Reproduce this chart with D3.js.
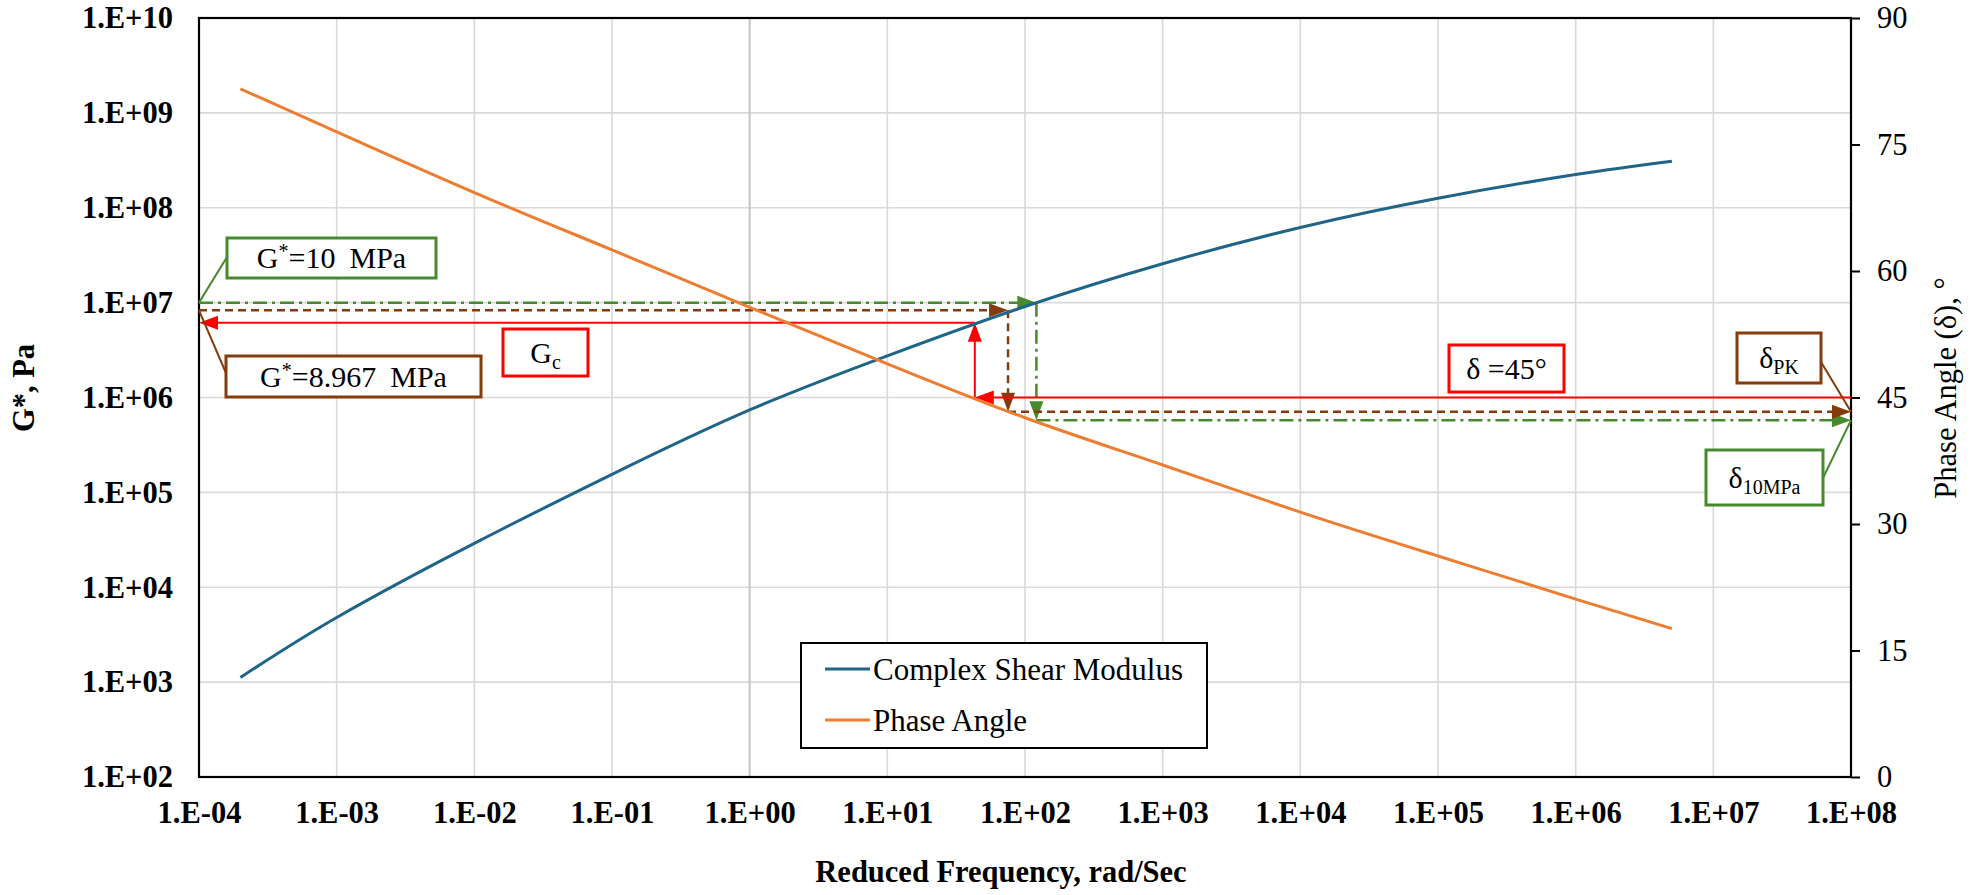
<!DOCTYPE html>
<html>
<head>
<meta charset="utf-8">
<script src="https://cdn.jsdelivr.net/npm/d3@7"></script>
<style>
  body { margin: 0; background: #fff; }
  svg { display: block; }
  svg text { font-family: "Liberation Serif", Tinos, "DejaVu Serif", serif; fill: #000; }
</style>
</head>
<body>
<div id="chart"></div>
<script>
// reduced frequency (rad/s) and the two master curves
var frequency = [2e-4, 1e-3, 1e-2, 1e-1, 1, 10, 100, 1e3, 1e4, 1e5, 1e6, 5e6];
var shearModulus = [1.12e3, 4.8e3, 2.9e4, 1.55e5, 7.4e5, 2.75e6, 9.1e6, 2.57e7, 6.2e7, 1.26e8, 2.24e8, 3.09e8];
var phaseAngle = [81.6, 76.5, 69.3, 62.5, 55.7, 49.0, 42.6, 37.0, 31.4, 26.2, 21.1, 17.6];

// annotation points: [frequency, G*, phase]
var crossover = [43.2, 6.15e6, 45];      // G_c at delta = 45
var pkPoint = [75.3, 8.3e6, 43.3];        // G* = 8.967 MPa
var tenMPaPoint = [121, 1e7, 42.3];       // G* = 10 MPa

var xTickExp = [-4, -3, -2, -1, 0, 1, 2, 3, 4, 5, 6, 7, 8];
var yTickExp = [2, 3, 4, 5, 6, 7, 8, 9, 10];
var phaseTicks = [0, 15, 30, 45, 60, 75, 90];
var seriesNames = ["Complex Shear Modulus", "Phase Angle"];

var W = 1973, H = 895;
var plot = {left: 199, top: 18, right: 1851, bottom: 777};
var fs = 30.5;
var SERIF = "'Liberation Serif', Tinos, 'DejaVu Serif', serif";

var BLUE = "#1f6587", ORANGE = "#ed7d31", RED = "#ff0000", BROWN = "#843c0c", GREEN = "#478a2e";

var svg = d3.select("#chart").append("svg")
    .attr("width", W)
    .attr("height", H)
    .attr("font-family", SERIF);

var x = d3.scaleLog().domain([1e-4, 1e8]).range([plot.left, plot.right]);
var y = d3.scaleLog().domain([1e2, 1e10]).range([plot.bottom, plot.top]);
var y2 = d3.scaleLinear().domain([0, 90]).range([plot.bottom, plot.top]);

function sciLabel(e){
  return "1.E" + (e < 0 ? "-" : "+") + String(Math.abs(e)).padStart(2, "0");
}

// gridlines
var grid = svg.append("g").attr("class", "grid");
grid.selectAll("line.h")
    .data(yTickExp.slice(1, -1)).enter()
  .append("line")
    .attr("x1", plot.left).attr("x2", plot.right)
    .attr("y1", function(e){ return y(Math.pow(10, e)); })
    .attr("y2", function(e){ return y(Math.pow(10, e)); })
    .style("stroke", "#d9d9d9")
    .style("stroke-width", 1.6);
grid.selectAll("line.v")
    .data(xTickExp.slice(1, -1)).enter()
  .append("line")
    .attr("y1", plot.top).attr("y2", plot.bottom)
    .attr("x1", function(e){ return x(Math.pow(10, e)); })
    .attr("x2", function(e){ return x(Math.pow(10, e)); })
    .style("stroke", function(e){ return e == 0 ? "#c4c4c4" : "#d9d9d9"; })
    .style("stroke-width", function(e){ return e == 0 ? 2 : 1.6; });

// axes
var leftAxis = svg.append("g")
    .attr("transform", "translate(" + plot.left + ",0)")
    .call(d3.axisLeft(y).tickValues(yTickExp.map(function(e){ return Math.pow(10, e); }))
      .tickFormat(function(d){ return sciLabel(Math.round(Math.log10(d))); })
      .tickSize(0).tickPadding(26));

var bottomAxis = svg.append("g")
    .attr("transform", "translate(0," + plot.bottom + ")")
    .call(d3.axisBottom(x).tickValues(xTickExp.map(function(e){ return Math.pow(10, e); }))
      .tickFormat(function(d){ return sciLabel(Math.round(Math.log10(d))); })
      .tickSize(0).tickPadding(24));

var rightAxis = svg.append("g")
    .attr("transform", "translate(" + plot.right + ",0)")
    .call(d3.axisRight(y2).tickValues(phaseTicks).tickSize(9).tickPadding(17));

[leftAxis, bottomAxis, rightAxis].forEach(function(a){
  a.attr("font-family", SERIF).attr("font-size", fs);
  a.select(".domain").remove();
  a.selectAll("text")
      .style("font-family", SERIF)
      .style("font-size", fs + "px")
      .style("fill", "#000");
});
leftAxis.selectAll("text").style("font-weight", "bold");
bottomAxis.selectAll("text").style("font-weight", "bold");
rightAxis.selectAll("line").style("stroke", "#000").style("stroke-width", 2);

// plot frame
svg.append("rect")
    .attr("x", plot.left).attr("y", plot.top)
    .attr("width", plot.right - plot.left)
    .attr("height", plot.bottom - plot.top)
    .style("fill", "none")
    .style("stroke", "#000")
    .style("stroke-width", 2.2);

// axis titles
svg.append("text")
    .attr("transform", "translate(24,388) rotate(-90)")
    .style("text-anchor", "middle")
    .style("dominant-baseline", "central")
    .style("font-size", fs + "px")
    .style("font-weight", "bold")
    .text("G*, Pa");

svg.append("text")
    .attr("x", 1001).attr("y", 882)
    .style("text-anchor", "middle")
    .style("font-size", fs + "px")
    .style("font-weight", "bold")
    .text("Reduced Frequency, rad/Sec");

svg.append("text")
    .attr("transform", "translate(1946,388) rotate(-90)")
    .style("text-anchor", "middle")
    .style("dominant-baseline", "central")
    .style("font-size", fs + "px")
    .text("Phase Angle (\u03b4), \u00b0");

// annotation helpers
var ann = svg.append("g").attr("class", "annotations");

function arrowHead(tx, ty, dir, color){
  var L = 19, w = 7, pts;
  if(dir == "left") pts = [[tx, ty], [tx + L, ty - w], [tx + L, ty + w]];
  if(dir == "right") pts = [[tx, ty], [tx - L, ty - w], [tx - L, ty + w]];
  if(dir == "up") pts = [[tx, ty], [tx - w, ty + L], [tx + w, ty + L]];
  if(dir == "down") pts = [[tx, ty], [tx - w, ty - L], [tx + w, ty - L]];
  ann.append("path")
      .attr("d", d3.line()(pts) + "Z")
      .style("fill", color);
}

function seg(x1, y1, x2, y2, color, dash, width){
  ann.append("line")
      .attr("x1", x1).attr("y1", y1).attr("x2", x2).attr("y2", y2)
      .style("stroke", color)
      .style("stroke-width", width || 2)
      .style("stroke-dasharray", dash || null);
}

// green: G* = 10 MPa -> delta_10MPa
var gx = x(tenMPaPoint[0]), gy = y(tenMPaPoint[1]), gp = y2(tenMPaPoint[2]);
var GREEN_DASH = "14,5,3,5";
seg(plot.left, gy, gx - 16, gy, GREEN, GREEN_DASH, 2.5);
arrowHead(gx, gy, "right", GREEN);
seg(gx, gy, gx, gp - 16, GREEN, GREEN_DASH, 2.5);
arrowHead(gx, gp, "down", GREEN);
seg(gx, gp, plot.right - 16, gp, GREEN, GREEN_DASH, 2.5);
arrowHead(plot.right, gp, "right", GREEN);

// brown: G* = 8.967 MPa -> delta_PK
var bx = x(pkPoint[0]), by = y(pkPoint[1]), bp = y2(pkPoint[2]);
var BROWN_DASH = "8,5";
seg(plot.left, by, bx - 16, by, BROWN, BROWN_DASH, 2.5);
arrowHead(bx, by, "right", BROWN);
seg(bx, by, bx, bp - 16, BROWN, BROWN_DASH, 2.5);
arrowHead(bx, bp, "down", BROWN);
seg(bx, bp, plot.right - 16, bp, BROWN, BROWN_DASH, 2.5);
arrowHead(plot.right, bp, "right", BROWN);

// red: crossover G_c at delta = 45
var rx = x(crossover[0]), ry = y(crossover[1]), rp = y2(crossover[2]);
seg(plot.left + 16, ry, rx, ry, RED, null, 2);
arrowHead(plot.left, ry, "left", RED);
seg(rx, rp, rx, ry + 16, RED, null, 2);
arrowHead(rx, ry, "up", RED);
seg(rx + 16, rp, plot.right, rp, RED, null, 2);
arrowHead(rx, rp, "left", RED);

// series curves
var pts = function(vals, scale){
  return frequency.map(function(f, i){ return [x(f), scale(vals[i])]; });
};
var line = d3.line().curve(d3.curveNatural);

svg.append("path")
    .attr("d", line(pts(shearModulus, y)))
    .style("fill", "none")
    .style("stroke", BLUE)
    .style("stroke-width", 3);

svg.append("path")
    .attr("d", line(pts(phaseAngle, y2)))
    .style("fill", "none")
    .style("stroke", ORANGE)
    .style("stroke-width", 3);

// callout boxes
var boxes = svg.append("g").attr("class", "boxes");
function labelBox(x0, y0, x1, y1, color, parts){
  boxes.append("rect")
      .attr("x", x0).attr("y", y0)
      .attr("width", x1 - x0).attr("height", y1 - y0)
      .style("fill", "#fff")
      .style("stroke", color)
      .style("stroke-width", 3);
  var t = boxes.append("text")
      .attr("x", (x0 + x1) / 2)
      .attr("y", (y0 + y1) / 2 + 10)
      .style("text-anchor", "middle")
      .style("font-size", "30px");
  parts.forEach(function(p){
    var ts = t.append("tspan").text(p.t);
    if(p.sub){ ts.style("font-size", "20px").attr("dy", 6); }
    if(p.sup){ ts.style("font-size", "20px").attr("dy", -10); }
    if(p.back){ ts.attr("dy", p.back); }
    if(p.dx){ ts.attr("dx", p.dx); }
  });
}

// callout leader lines
seg(227, 257, plot.left, gy, GREEN, null, 2);
seg(226, 373, plot.left, by, BROWN, null, 2);
seg(1821, 362, plot.right, bp, BROWN, null, 2);
seg(1823, 478, plot.right, gp, GREEN, null, 2);

labelBox(227, 238, 436, 278, GREEN, [{t: "G"}, {t: "*", sup: true}, {t: "=10", back: 10}, {t: "MPa", dx: 14}]);
labelBox(226, 356, 481, 397, BROWN, [{t: "G"}, {t: "*", sup: true}, {t: "=8.967", back: 10}, {t: "MPa", dx: 14}]);
labelBox(503, 329, 588, 376, RED, [{t: "G"}, {t: "c", sub: true}]);
labelBox(1449, 345, 1564, 392, RED, [{t: "\u03b4 =45\u00b0"}]);
labelBox(1737, 333, 1821, 383, BROWN, [{t: "\u03b4"}, {t: "PK", sub: true}]);
labelBox(1706, 450, 1823, 505, GREEN, [{t: "\u03b4"}, {t: "10MPa", sub: true}]);

// legend
var legend = svg.append("g").attr("class", "legend");
legend.append("rect")
    .attr("x", 801).attr("y", 643)
    .attr("width", 406).attr("height", 105)
    .style("fill", "#fff")
    .style("stroke", "#000")
    .style("stroke-width", 2);

var legendRow = legend.selectAll("g.row")
    .data(seriesNames).enter()
  .append("g")
    .attr("class", "row")
    .attr("transform", function(d, i){ return "translate(825," + (669 + i * 51) + ")"; });

legendRow.append("line")
    .attr("x1", 0).attr("x2", 45)
    .style("stroke", function(d, i){ return i == 0 ? BLUE : ORANGE; })
    .style("stroke-width", 3);

legendRow.append("text")
    .attr("x", 48)
    .style("dominant-baseline", "central")
    .style("font-size", "31px")
    .text(function(d){ return d; });
</script>
</body>
</html>
